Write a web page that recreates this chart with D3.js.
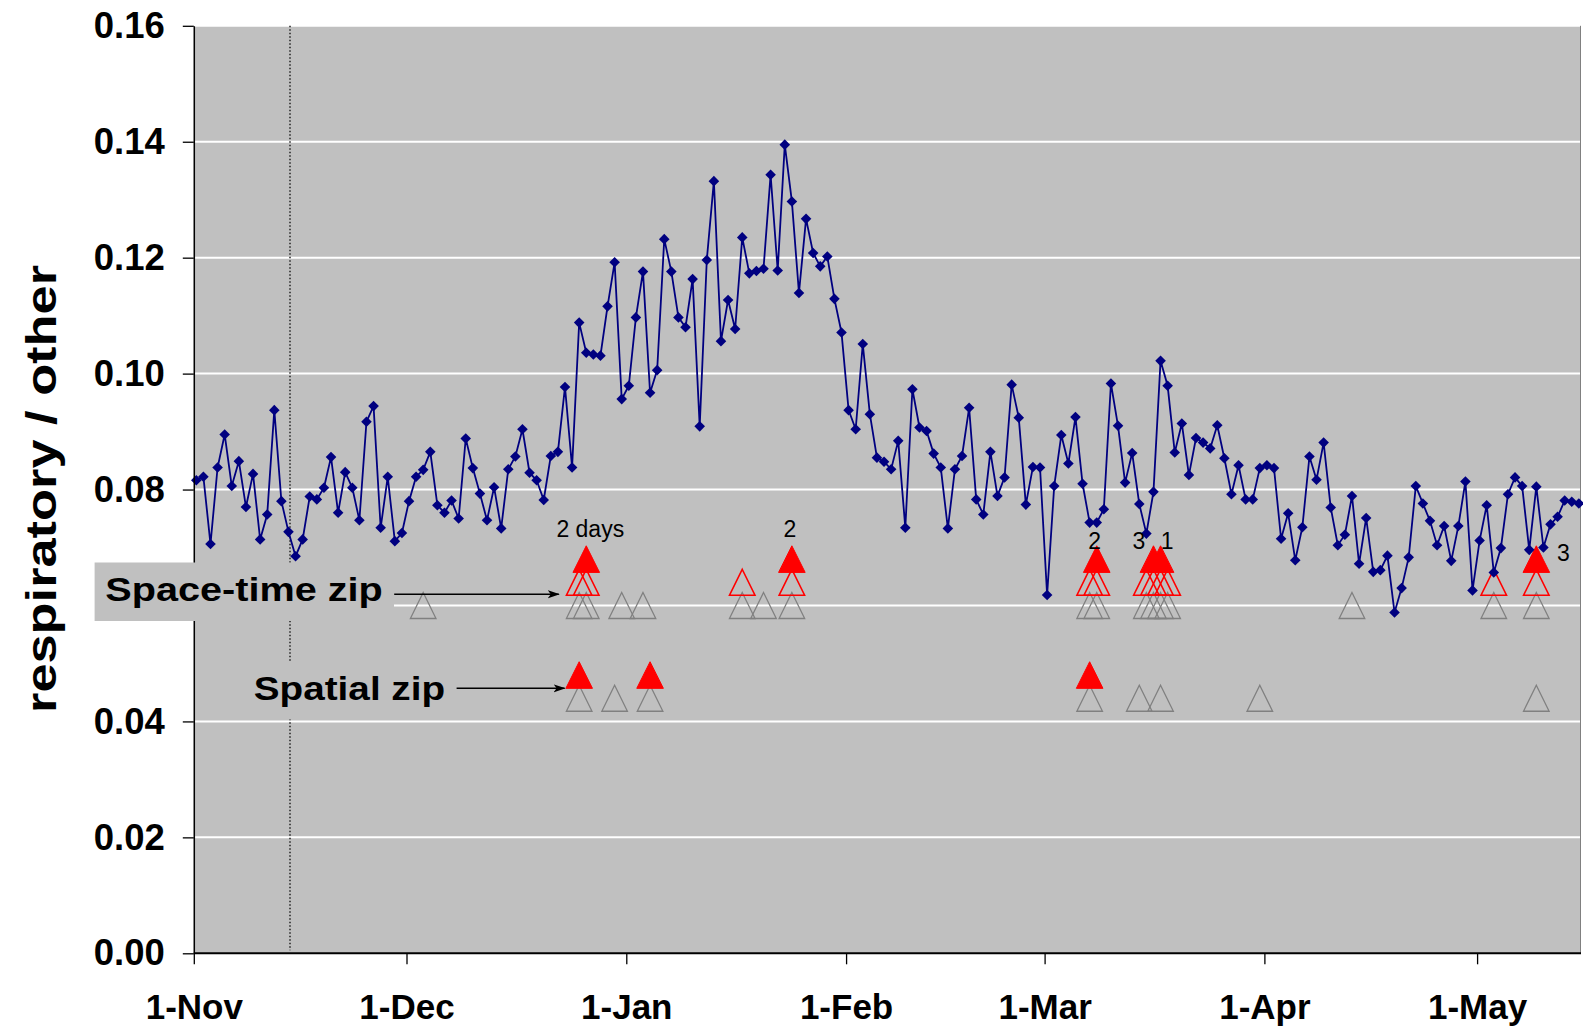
<!DOCTYPE html>
<html><head><meta charset="utf-8">
<script src="https://cdn.jsdelivr.net/npm/d3@7"></script>
<style>html,body{margin:0;padding:0;background:#fff}svg{display:block}</style>
</head><body>
<svg id="c" width="1583" height="1027"></svg>
<script>
// ---------------- data ----------------
const startDate = "2004-11-01";   // first daily value
const ratio = [
0.0816,0.0822,0.0706,0.0838,0.0895,0.0806,0.0849,0.0770,0.0827,0.0714,
0.0757,0.0937,0.0780,0.0727,0.0685,0.0714,0.0788,0.0783,0.0803,0.0856,
0.0760,0.0830,0.0803,0.0747,0.0917,0.0944,0.0734,0.0822,0.0711,0.0725,
0.0780,0.0822,0.0834,0.0865,0.0773,0.0760,0.0781,0.0750,0.0888,0.0837,
0.0793,0.0747,0.0804,0.0733,0.0835,0.0857,0.0904,0.0829,0.0816,0.0782,
0.0858,0.0865,0.0977,0.0838,0.1088,0.1036,0.1033,0.1031,0.1116,0.1192,
0.0956,0.0979,0.1097,0.1176,0.0967,0.1006,0.1232,0.1176,0.1097,0.1080,
0.1163,0.0909,0.1196,0.1332,0.1056,0.1127,0.1077,0.1235,0.1173,0.1177,
0.1181,0.1343,0.1178,0.1395,0.1297,0.1139,0.1267,0.1208,0.1185,0.1202,
0.1129,0.1071,0.0937,0.0904,0.1051,0.0930,0.0855,0.0848,0.0835,0.0884,
0.0734,0.0973,0.0907,0.0901,0.0862,0.0838,0.0733,0.0835,0.0858,0.0941,
0.0783,0.0757,0.0865,0.0789,0.0821,0.0981,0.0924,0.0774,0.0839,0.0838,
0.0618,0.0806,0.0894,0.0845,0.0925,0.0810,0.0743,0.0743,0.0766,0.0983,
0.0910,0.0812,0.0863,0.0775,0.0724,0.0796,0.1022,0.0979,0.0864,0.0914,
0.0825,0.0889,0.0881,0.0871,0.0911,0.0854,0.0792,0.0842,0.0783,0.0783,
0.0837,0.0842,0.0837,0.0715,0.0759,0.0678,0.0735,0.0857,0.0817,0.0881,
0.0769,0.0704,0.0722,0.0789,0.0672,0.0751,0.0658,0.0661,0.0686,0.0588,
0.0630,0.0683,0.0806,0.0776,0.0746,0.0704,0.0737,0.0677,0.0737,0.0814,
0.0626,0.0712,0.0773,0.0657,0.0699,0.0792,0.0821,0.0806,0.0696,0.0805,
0.0700,0.0740,0.0753,0.0781,0.0779,0.0776
];

const monthTicks  = ["2004-11-01","2004-12-01","2005-01-01","2005-02-01","2005-03-01","2005-04-01","2005-05-01"];
const monthLabels = ["1-Nov","1-Dec","1-Jan","1-Feb","1-Mar","1-Apr","1-May"];
const yTicks      = [0,0.02,0.04,0.06,0.08,0.10,0.12,0.14,0.16];
// the 0.06 label is hidden behind the "Space-time zip" box in the original
const yTickLabels = ["0.00","0.02","0.04","","0.08","0.10","0.12","0.14","0.16"];

// detection rows (dates) and the level each row is drawn at
const spaceTimeAll      = ["2004-12-03","2004-12-25","2004-12-26","2004-12-31","2005-01-03","2005-01-17","2005-01-20","2005-01-24",
                           "2005-03-07","2005-03-08","2005-03-15","2005-03-16","2005-03-17","2005-03-18","2005-04-13","2005-05-03","2005-05-09"];
const spaceTimeSignal   = ["2004-12-25","2004-12-26","2005-01-17","2005-01-24","2005-03-07","2005-03-08",
                           "2005-03-15","2005-03-16","2005-03-17","2005-03-18","2005-05-03","2005-05-09"];
const spaceTimeStrong   = ["2004-12-26","2005-01-24","2005-03-08","2005-03-16","2005-03-17","2005-05-09"];
const spatialAll        = ["2004-12-25","2004-12-30","2005-01-04","2005-03-07","2005-03-14","2005-03-17","2005-03-31","2005-05-09"];
const spatialStrong     = ["2004-12-25","2005-01-04","2005-03-07"];
const levelSpaceTimeAll = 0.060, levelSpaceTimeSignal = 0.064, levelSpaceTimeStrong = 0.068;
const levelSpatialAll = 0.044, levelSpatialStrong = 0.048;

const markerDate = "2004-11-14T13:40";
const annotations = [
  {date:"2004-12-26", text:"2 days", dx:4,    dy:-22},
  {date:"2005-01-24", text:"2",      dx:-2,   dy:-22},
  {date:"2005-03-08", text:"2",      dx:-2,   dy:-10},
  {date:"2005-03-16", text:"3",      dx:-14.5,dy:-10},
  {date:"2005-03-17", text:"1",      dx:6.5,  dy:-10},
  {date:"2005-05-09", text:"3",      dx:27,   dy:2}
];

// ---------------- layout ----------------
const svg = d3.select("#c");
const P = {left:193.8, right:1581, top:25.8, bottom:953.3};
const pxPerDay = 7.09;
const parse = d3.utcParse("%Y-%m-%d");
const parseT = d3.utcParse("%Y-%m-%dT%H:%M");
const start = parse(startDate);
const x = d3.scaleUtc().domain([start, d3.utcDay.offset(start,196)]).range([P.left, P.left+196*pxPerDay]);
const y = d3.scaleLinear().domain([0,0.16]).range([P.bottom, P.top]);
const shift = 8.5*3600*1000;
const px = d => x(new Date(+d + shift));
const FONT = "'Liberation Sans', Arial, sans-serif";

const series = ratio.map((v,i)=>({date:d3.utcDay.offset(start,i), v}));

// background
svg.append("rect").attr("x",P.left).attr("y",P.top).attr("width",P.right-P.left).attr("height",P.bottom-P.top).attr("fill","#c0c0c0");

// gridlines
svg.append("g").selectAll("line").data(yTicks.filter(t=>t>0)).join("line")
  .attr("x1",P.left).attr("x2",P.right).attr("y1",d=>y(d)).attr("y2",d=>y(d))
  .attr("stroke","#ffffff").attr("stroke-width",2);

// right border
svg.append("line").attr("x1",P.right-0.5).attr("x2",P.right-0.5).attr("y1",P.top).attr("y2",P.bottom)
  .attr("stroke","#808080").attr("stroke-width",1);

// dotted marker line
const mx = x(parseT(markerDate));
svg.append("line").attr("x1",mx).attr("x2",mx).attr("y1",P.top).attr("y2",P.bottom-3)
  .attr("stroke","#222").attr("stroke-width",1.5).attr("stroke-dasharray","1.5,2");

// triangles
const tri = (hw,hh)=>`M0,${-hh}L${hw},${hh}L${-hw},${hh}Z`;
function triRow(dates, level, fill, stroke, sw, hw, hh){
  svg.append("g").selectAll("path").data(dates.map(parse)).join("path")
    .attr("transform",d=>`translate(${px(d)},${y(level)})`)
    .attr("d",tri(hw,hh)).attr("fill",fill).attr("stroke",stroke).attr("stroke-width",sw);
}
triRow(spaceTimeAll, levelSpaceTimeAll, "none", "#808080", 1.3, 12.8, 13);
triRow(spatialAll, levelSpatialAll, "none", "#808080", 1.3, 12.8, 13);
triRow(spaceTimeSignal, levelSpaceTimeSignal, "none", "#ff0000", 1.5, 12.8, 13);
triRow(spaceTimeStrong, levelSpaceTimeStrong, "#ff0000", "#ff0000", 1, 13.3, 13.3);
triRow(spatialStrong, levelSpatialStrong, "#ff0000", "#ff0000", 1, 13.3, 13.3);

// line + diamonds
svg.append("path").datum(series)
  .attr("d", d3.line().x(d=>px(d.date)).y(d=>y(d.v)))
  .attr("fill","none").attr("stroke","#000080").attr("stroke-width",1.8);
svg.append("g").selectAll("path").data(series).join("path")
  .attr("transform",d=>`translate(${px(d.date)},${y(d.v)})`)
  .attr("d","M0,-5.3L5.3,0L0,5.3L-5.3,0Z").attr("fill","#000080");

// axes
const yAxis = svg.append("g").attr("transform",`translate(${P.left},0)`)
  .call(d3.axisLeft(y).tickValues(yTicks).tickFormat((d,i)=>yTickLabels[i]).tickSize(11).tickSizeOuter(0).tickPadding(18));
yAxis.select(".domain").attr("stroke","#000").attr("stroke-width",1.5);
yAxis.selectAll(".tick line").attr("stroke","#000").attr("stroke-width",1.3);
yAxis.selectAll("text").attr("font-family",FONT).attr("font-size",36.5).attr("font-weight","bold").attr("fill","#000");

const xAxis = svg.append("g").attr("transform",`translate(0,${P.bottom})`)
  .call(d3.axisBottom(x).tickValues(monthTicks.map(parse)).tickFormat((d,i)=>monthLabels[i]).tickSize(11).tickSizeOuter(0));
xAxis.select(".domain").attr("d",`M${P.left},0H${P.right}`).attr("stroke","#000").attr("stroke-width",2);
xAxis.selectAll(".tick line").attr("stroke","#000").attr("stroke-width",1.3);
xAxis.selectAll("text").attr("dy",null).attr("y",1019-P.bottom)
  .attr("font-family",FONT).attr("font-size",35).attr("font-weight","bold").attr("fill","#000");

// label boxes + arrows
const defs = svg.append("defs");
defs.append("marker").attr("id","ah").attr("viewBox","0 0 12 10").attr("refX",11).attr("refY",5)
  .attr("markerWidth",12).attr("markerHeight",10).attr("markerUnits","userSpaceOnUse").attr("orient","auto")
  .append("path").attr("d","M0,1L12,5L0,9L3,5Z").attr("fill","#000");

svg.append("rect").attr("x",94.6).attr("y",562.5).attr("width",299.4).attr("height",58.5).attr("fill","#c0c0c0");
svg.append("text").attr("x",105.3).attr("y",601).attr("font-family",FONT).attr("font-weight","bold").attr("font-size",33)
  .attr("textLength",277.5).attr("lengthAdjust","spacingAndGlyphs").text("Space-time zip");
svg.append("line").attr("x1",394.2).attr("x2",558.8).attr("y1",594.3).attr("y2",594.3)
  .attr("stroke","#000").attr("stroke-width",1.6).attr("marker-end","url(#ah)");

svg.append("rect").attr("x",244).attr("y",661.5).attr("width",208).attr("height",58).attr("fill","#c0c0c0");
svg.append("text").attr("x",253.8).attr("y",700).attr("font-family",FONT).attr("font-weight","bold").attr("font-size",33)
  .attr("textLength",191.3).attr("lengthAdjust","spacingAndGlyphs").text("Spatial zip");
svg.append("line").attr("x1",456.6).attr("x2",564.6).attr("y1",688.3).attr("y2",688.3)
  .attr("stroke","#000").attr("stroke-width",1.6).attr("marker-end","url(#ah)");

// annotations
svg.append("g").selectAll("text").data(annotations).join("text")
  .attr("x",d=>px(parse(d.date))+d.dx).attr("y",d=>y(levelSpaceTimeStrong)+d.dy)
  .attr("text-anchor","middle").attr("font-family",FONT).attr("font-size",23).attr("fill","#000")
  .text(d=>d.text);

// y title
svg.append("text").attr("transform","translate(56,489) rotate(-90)")
  .attr("text-anchor","middle").attr("font-family",FONT).attr("font-weight","bold").attr("font-size",43)
  .attr("textLength",448).attr("lengthAdjust","spacingAndGlyphs").text("respiratory / other");
</script>
</body></html>
